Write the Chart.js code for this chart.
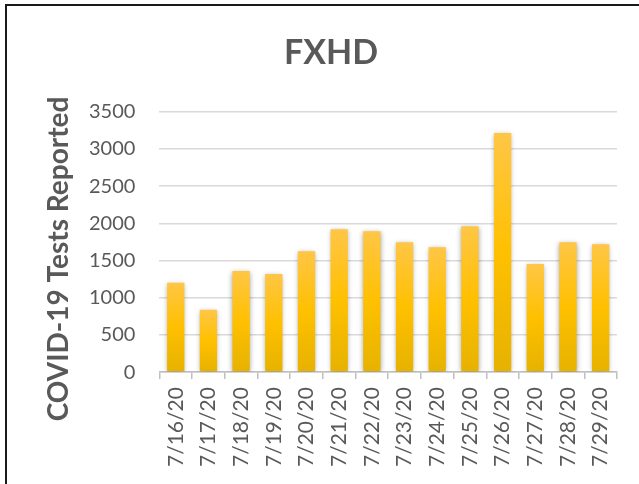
<!DOCTYPE html>
<html>
<head>
<meta charset="utf-8">
<script src="https://cdn.jsdelivr.net/npm/chart.js@4.4.1/dist/chart.umd.min.js"></script>
<style>
  html, body { margin: 0; padding: 0; background: #fff; }
  #wrap { position: relative; width: 639px; height: 484px; overflow: hidden; }
  #frame { position: absolute; left: 5px; top: 4px; width: 700px; height: 560px; border: 2px solid #1a1a1a; box-sizing: border-box; }
  canvas { position: absolute; left: 0; top: 0; }
</style>
</head>
<body>
<div id="wrap">
  <div id="frame"></div>
  <canvas id="tests_chart" width="639" height="484"></canvas>
</div>
<script>
var dates = ["7/16/20", "7/17/20", "7/18/20", "7/19/20", "7/20/20", "7/21/20", "7/22/20",
             "7/23/20", "7/24/20", "7/25/20", "7/26/20", "7/27/20", "7/28/20", "7/29/20"];
var testsReported = [1202, 838, 1359, 1318, 1626, 1920, 1893, 1746, 1679, 1960, 3215, 1452, 1746, 1719];
var yTicks = [0, 500, 1000, 1500, 2000, 2500, 3000, 3500];

var grey = '#595959';

// each bar gets its own top-to-bottom gradient like the Excel fill
function barFill(context) {
    var chart = context.chart;
    if (!chart.chartArea || !chart.scales.y) {
        return '#ffc000';
    }
    var y = chart.scales.y;
    var top = y.getPixelForValue(context.raw);
    var base = y.getPixelForValue(0);
    if (!isFinite(top) || !isFinite(base) || top === base) {
        return '#ffc000';
    }
    var g = chart.ctx.createLinearGradient(0, top, 0, base);
    g.addColorStop(0, '#ffc646');
    g.addColorStop(0.5, '#ffc000');
    g.addColorStop(1, '#e6b200');
    return g;
}

var barShadow = {
    id: 'barShadow',
    beforeDatasetsDraw: function (chart) {
        var ctx = chart.ctx;
        ctx.save();
        ctx.shadowColor = 'rgba(0,0,0,0.35)';
        ctx.shadowBlur = 5;
        ctx.shadowOffsetX = 0;
        ctx.shadowOffsetY = 1;
    },
    afterDatasetsDraw: function (chart) {
        chart.ctx.restore();
    }
};

var ctx = document.getElementById('tests_chart').getContext('2d');
var testsChart = new Chart(ctx, {
    type: 'bar',
    data: {
        labels: dates,
        datasets: [
            {
                label: 'COVID-19 Tests Reported',
                data: testsReported,
                backgroundColor: barFill,
                borderWidth: 0,
                barPercentage: 0.53,
                categoryPercentage: 1.0
            }
        ]
    },
    options: {
        responsive: false,
        animation: false,
        devicePixelRatio: 1,
        layout: {
            padding: { left: 45, right: 22, top: 33, bottom: 9 }
        },
        plugins: {
            legend: { display: false },
            tooltip: { enabled: false },
            title: {
                display: true,
                text: 'FXHD',
                color: grey,
                font: { family: 'Lato', size: 34, weight: 'bold' },
                padding: { top: 0, bottom: 38 }
            }
        },
        scales: {
            x: {
                grid: {
                    display: true,
                    drawOnChartArea: false,
                    drawTicks: true,
                    tickLength: 7,
                    color: '#bfbfbf',
                    lineWidth: 1.5,
                    offset: true
                },
                border: { display: true, color: '#bfbfbf', width: 1.5 },
                ticks: {
                    color: grey,
                    font: { family: 'Lato', size: 21 },
                    minRotation: 90,
                    maxRotation: 90,
                    padding: 8,
                    autoSkip: false
                }
            },
            y: {
                min: 0,
                max: 3500,
                afterBuildTicks: function (axis) {
                    axis.ticks = yTicks.map(function (v) { return { value: v }; });
                },
                grid: {
                    color: '#d9d9d9',
                    lineWidth: 1.5,
                    drawTicks: false
                },
                border: { display: false },
                ticks: {
                    color: grey,
                    font: { family: 'Lato', size: 20 },
                    padding: 24,
                    callback: function (value) { return String(value); }
                },
                title: {
                    display: true,
                    text: 'COVID-19 Tests Reported\u00a0\u00a0\u00a0\u00a0\u00a0',
                    color: grey,
                    font: { family: 'Lato', size: 28, weight: 'bold', lineHeight: 1 },
                    padding: { top: 0, bottom: -8 }
                }
            }
        }
    },
    plugins: [barShadow]
});
</script>
</body>
</html>
